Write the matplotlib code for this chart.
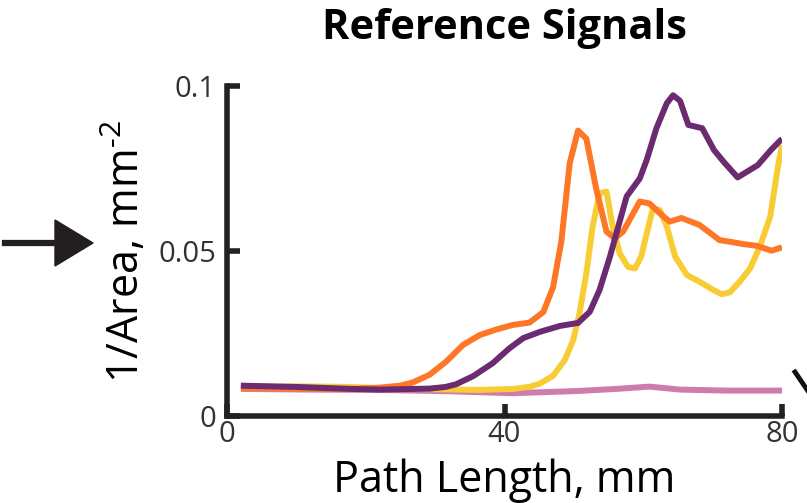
import matplotlib
matplotlib.use("Agg")
import matplotlib.pyplot as plt
from matplotlib.lines import Line2D
from matplotlib.patches import Polygon

plt.rcParams['font.family'] = ['Open Sans', 'DejaVu Sans']
plt.rcParams['mathtext.default'] = 'regular'

# values (x in mm, y in 1/mm^2)
orange_x = [2, 10, 18, 22, 25, 26.8, 29.2, 31.6, 34.0, 36.4, 38.8, 41.2, 43.6, 45.6, 47.0,
            48.2, 49.4, 50.6, 51.8, 53.2, 54.7, 55.9, 57.1, 59.5, 60.9, 62.4, 63.8, 65.5,
            68.1, 71.0, 72.5, 74.4, 76.3, 78.5, 80]
orange_y = [0.0085, 0.0083, 0.0082, 0.0086, 0.0092, 0.0102, 0.0125, 0.0165, 0.0215, 0.0245,
            0.0262, 0.0276, 0.0283, 0.0315, 0.039, 0.053, 0.0766, 0.0865, 0.084, 0.069,
            0.0559, 0.0538, 0.0559, 0.065, 0.0644, 0.0614, 0.0589, 0.060, 0.0579, 0.0533,
            0.0528, 0.0521, 0.0516, 0.0501, 0.0511]

purple_x = [2, 10, 18, 22, 29.2, 31.5, 33.0, 35.5, 38.3, 40.7, 42.7, 45.1, 48.0, 50.6, 52.3,
            53.7, 55.2, 56.4, 57.6, 59.5, 60.5, 61.9, 63.4, 64.3, 65.3, 66.5, 68.5, 70.2,
            71.6, 73.6, 76.5, 78.4, 79.8, 80]
purple_y = [0.0092, 0.0088, 0.0082, 0.0080, 0.0083, 0.0088, 0.0096, 0.0121, 0.016, 0.0205,
            0.0236, 0.0255, 0.0273, 0.0282, 0.0316, 0.0382, 0.0483, 0.0574, 0.0665, 0.072,
            0.0776, 0.0872, 0.0948, 0.0972, 0.0955, 0.0882, 0.0872, 0.0806, 0.077, 0.0723,
            0.076, 0.0806, 0.0836, 0.0838]

yellow_x = [2, 10, 18, 22, 30, 36.4, 41.2, 43.5, 45.1, 47.0, 48.7, 49.9, 50.8, 51.8, 52.7,
            53.7, 54.7, 55.6, 56.6, 57.8, 58.8, 59.7, 60.5, 61.4, 62.4, 63.4, 64.6, 66.3,
            68.1, 70.1, 71.3, 72.5, 73.9, 75.4, 76.8, 78.3, 79.5, 80]
yellow_y = [0.0088, 0.0090, 0.0088, 0.0084, 0.0081, 0.0079, 0.0082, 0.0088, 0.0098, 0.0122,
            0.017, 0.023, 0.031, 0.0432, 0.0574, 0.0675, 0.068, 0.0574, 0.0493, 0.0452,
            0.0447, 0.0483, 0.0553, 0.0629, 0.0624, 0.0574, 0.0483, 0.0427, 0.0407, 0.0382,
            0.0369, 0.0375, 0.0407, 0.0447, 0.0513, 0.0604, 0.0766, 0.0821]

pink_x = [2, 12, 22, 32, 41.2, 50.8, 56, 60.9, 65.3, 72, 80]
pink_y = [0.0082, 0.0080, 0.0079, 0.0075, 0.0069, 0.0076, 0.0082, 0.0089, 0.0080, 0.0077, 0.0077]

W, H = 807, 503
fig = plt.figure(figsize=(W / 100, H / 100), dpi=100)
ax = fig.add_axes([227 / W, 1 - 416 / H, 555 / W, 330 / H])

lw = 4.3
ax.plot(pink_x, pink_y, color='#cf7bab', lw=lw, solid_capstyle='butt')
ax.plot(yellow_x, yellow_y, color='#f8cc35', lw=lw, solid_capstyle='butt')
ax.plot(orange_x, orange_y, color='#fd7726', lw=lw, solid_capstyle='butt')
ax.plot(purple_x, purple_y, color='#6c2a70', lw=lw, solid_capstyle='butt')

ax.set_xlim(0, 80)
ax.set_ylim(0, 0.1)
ax.set_xticks([0, 40, 80])
ax.set_yticks([0, 0.05, 0.1])
ax.set_yticklabels(['0', '0.05', '0.1'])
for s in ['top', 'right']:
    ax.spines[s].set_visible(False)
for s in ['left', 'bottom']:
    ax.spines[s].set_linewidth(4)
    ax.spines[s].set_color('#222222')
ax.tick_params(direction='in', length=9, width=4, color='#222222',
               labelsize=21, labelcolor='#333333')
ax.tick_params(axis='y', pad=8)
ax.tick_params(axis='x', pad=3)

ax.set_title('Reference Signals', fontsize=30, fontweight='bold', pad=34)
ax.set_xlabel('Path Length, mm', fontsize=31, labelpad=7)
ax.set_ylabel('1/Area, mm$^{\u2010 2}$', fontsize=31, labelpad=6)

# arrow pointing at the y label
tf = fig.transFigure
fig.add_artist(Line2D([5 / W, 60 / W], [1 - 243 / H, 1 - 243 / H],
                      color='#231f20', lw=4.5, transform=tf))
fig.add_artist(Polygon([[55 / W, 1 - 220 / H], [55 / W, 1 - 266 / H], [93 / W, 1 - 243 / H]],
                       closed=True, color='#231f20', transform=tf))

# cut-off mark at the right edge
fig.add_artist(Line2D([795 / W, 810 / W], [1 - 372 / H, 1 - 394 / H],
                      color='#111111', lw=3.5, transform=tf))

fig.savefig('out.png', dpi=100)
